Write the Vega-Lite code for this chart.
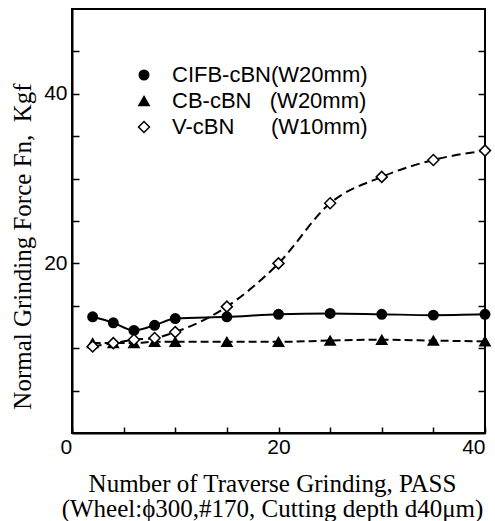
{
  "$schema": "https://vega.github.io/schema/vega-lite/v6.json",
  "width": 413,
  "height": 424,
  "autosize": {"type": "none"},
  "padding": {"left": 72, "top": 9, "right": 10, "bottom": 88},
  "background": "white",
  "config": {
    "view": {"stroke": "black", "strokeWidth": 2},
    "axis": {
      "domainColor": "black", "domainWidth": 2, "tickColor": "black", "tickWidth": 1.5, "grid": false,
      "labelFont": "Liberation Sans", "labelFontSize": 21, "labelColor": "black",
      "titleFont": "Liberation Serif", "titleFontSize": 25, "titleFontWeight": "normal", "titleColor": "black"
    }
  },
  "data": {"values": [
    {"pass": 2, "force": 13.7, "series": "CIFB-cBN(W20mm)"},
    {"pass": 4, "force": 13.0, "series": "CIFB-cBN(W20mm)"},
    {"pass": 6, "force": 12.1, "series": "CIFB-cBN(W20mm)"},
    {"pass": 8, "force": 12.7, "series": "CIFB-cBN(W20mm)"},
    {"pass": 10, "force": 13.5, "series": "CIFB-cBN(W20mm)"},
    {"pass": 15, "force": 13.7, "series": "CIFB-cBN(W20mm)"},
    {"pass": 20, "force": 14.0, "series": "CIFB-cBN(W20mm)"},
    {"pass": 25, "force": 14.1, "series": "CIFB-cBN(W20mm)"},
    {"pass": 30, "force": 14.0, "series": "CIFB-cBN(W20mm)"},
    {"pass": 35, "force": 13.9, "series": "CIFB-cBN(W20mm)"},
    {"pass": 40, "force": 14.0, "series": "CIFB-cBN(W20mm)"},
    {"pass": 2, "force": 10.6, "series": "CB-cBN\u00a0\u00a0\u00a0(W20mm)"},
    {"pass": 4, "force": 10.6, "series": "CB-cBN\u00a0\u00a0\u00a0(W20mm)"},
    {"pass": 6, "force": 10.6, "series": "CB-cBN\u00a0\u00a0\u00a0(W20mm)"},
    {"pass": 8, "force": 10.75, "series": "CB-cBN\u00a0\u00a0\u00a0(W20mm)"},
    {"pass": 10, "force": 10.75, "series": "CB-cBN\u00a0\u00a0\u00a0(W20mm)"},
    {"pass": 15, "force": 10.75, "series": "CB-cBN\u00a0\u00a0\u00a0(W20mm)"},
    {"pass": 20, "force": 10.75, "series": "CB-cBN\u00a0\u00a0\u00a0(W20mm)"},
    {"pass": 25, "force": 10.9, "series": "CB-cBN\u00a0\u00a0\u00a0(W20mm)"},
    {"pass": 30, "force": 11.0, "series": "CB-cBN\u00a0\u00a0\u00a0(W20mm)"},
    {"pass": 35, "force": 10.9, "series": "CB-cBN\u00a0\u00a0\u00a0(W20mm)"},
    {"pass": 40, "force": 10.8, "series": "CB-cBN\u00a0\u00a0\u00a0(W20mm)"},
    {"pass": 2, "force": 10.2, "series": "V-cBN\u00a0\u00a0\u00a0\u00a0\u00a0\u00a0(W10mm)"},
    {"pass": 4, "force": 10.6, "series": "V-cBN\u00a0\u00a0\u00a0\u00a0\u00a0\u00a0(W10mm)"},
    {"pass": 6, "force": 11.0, "series": "V-cBN\u00a0\u00a0\u00a0\u00a0\u00a0\u00a0(W10mm)"},
    {"pass": 8, "force": 11.2, "series": "V-cBN\u00a0\u00a0\u00a0\u00a0\u00a0\u00a0(W10mm)"},
    {"pass": 10, "force": 11.9, "series": "V-cBN\u00a0\u00a0\u00a0\u00a0\u00a0\u00a0(W10mm)"},
    {"pass": 15, "force": 14.9, "series": "V-cBN\u00a0\u00a0\u00a0\u00a0\u00a0\u00a0(W10mm)"},
    {"pass": 20, "force": 20.0, "series": "V-cBN\u00a0\u00a0\u00a0\u00a0\u00a0\u00a0(W10mm)"},
    {"pass": 25, "force": 27.1, "series": "V-cBN\u00a0\u00a0\u00a0\u00a0\u00a0\u00a0(W10mm)"},
    {"pass": 30, "force": 30.2, "series": "V-cBN\u00a0\u00a0\u00a0\u00a0\u00a0\u00a0(W10mm)"},
    {"pass": 35, "force": 32.2, "series": "V-cBN\u00a0\u00a0\u00a0\u00a0\u00a0\u00a0(W10mm)"},
    {"pass": 40, "force": 33.3, "series": "V-cBN\u00a0\u00a0\u00a0\u00a0\u00a0\u00a0(W10mm)"}
  ]},
  "resolve": {"scale": {"y": "shared"}, "axis": {"y": "independent"}},
  "layer": [
    {
      "encoding": {
        "x": {"field": "pass", "type": "quantitative", "scale": {"domain": [0, 40], "nice": false},
          "axis": {"values": [0, 5, 10, 15, 20, 25, 30, 35, 40], "tickSize": -6, "labelPadding": 9,
            "labelExpr": "datum.value % 20 == 0 ? datum.label : ''",
            "labelOffset": {"condition": {"test": "datum.value == 0", "value": -12}, "value": 0},
            "title": ["Number of Traverse Grinding, PASS", "(Wheel:\u03d5300,#170, Cutting depth d40\u03bcm)"],
            "titleLineHeight": 25, "titleX": 200, "titleY": 38, "titleBaseline": "top", "titleAlign": "center"}},
        "y": {"field": "force", "type": "quantitative", "scale": {"domain": [0, 50], "nice": false},
          "axis": {"values": [5, 10, 15, 20, 25, 30, 35, 40, 45], "tickSize": -7, "labelPadding": 12,
            "labelExpr": "datum.value % 20 == 0 ? datum.label : ''",
            "title": "Normal Grinding Force Fn,\u00a0 Kgf", "titleX": -50, "titleY": 237, "titleBaseline": "middle", "titleAlign": "center", "titleAngle": -90}}
      },
      "layer": [
        {
          "transform": [{"filter": "datum.series == 'CIFB-cBN(W20mm)'"}],
          "mark": {"type": "line", "interpolate": "monotone", "strokeWidth": 2, "color": "black"}
        },
        {
          "transform": [{"filter": "indexof(datum.series, 'CB-cBN') == 0"}],
          "mark": {"type": "line", "interpolate": "monotone", "strokeWidth": 2, "color": "black", "strokeDash": [8, 4]}
        },
        {
          "transform": [{"filter": "indexof(datum.series, 'V-cBN') == 0"}],
          "mark": {"type": "line", "interpolate": "monotone", "strokeWidth": 2, "color": "black", "strokeDash": [9, 5]}
        },
        {
          "mark": {"type": "point", "stroke": "black", "strokeWidth": 1.5, "opacity": 1, "fillOpacity": 1},
          "encoding": {
            "shape": {"field": "series", "type": "nominal",
              "scale": {"domain": ["CIFB-cBN(W20mm)", "CB-cBN\u00a0\u00a0\u00a0(W20mm)", "V-cBN\u00a0\u00a0\u00a0\u00a0\u00a0\u00a0(W10mm)"], "range": ["circle", "triangle-up", "diamond"]},
              "legend": {"orient": "none", "legendX": 61, "legendY": 55, "padding": 0, "title": null,
                "labelFont": "Liberation Sans", "labelFontSize": 22, "labelColor": "black", "labelOffset": 17, "labelLimit": 400,
                "rowPadding": 4, "symbolStrokeColor": "black", "symbolStrokeWidth": 1.5, "symbolOpacity": 1}},
            "fill": {"field": "series", "type": "nominal",
              "scale": {"domain": ["CIFB-cBN(W20mm)", "CB-cBN\u00a0\u00a0\u00a0(W20mm)", "V-cBN\u00a0\u00a0\u00a0\u00a0\u00a0\u00a0(W10mm)"], "range": ["black", "black", "white"]}},
            "size": {"field": "series", "type": "nominal",
              "scale": {"domain": ["CIFB-cBN(W20mm)", "CB-cBN\u00a0\u00a0\u00a0(W20mm)", "V-cBN\u00a0\u00a0\u00a0\u00a0\u00a0\u00a0(W10mm)"], "range": [90, 120, 210]}}
          }
        }
      ]
    },
    {
      "mark": {"type": "point", "opacity": 0},
      "encoding": {
        "x": {"field": "pass", "type": "quantitative"},
        "y": {"field": "force", "type": "quantitative",
          "axis": {"orient": "right", "values": [5, 10, 15, 20, 25, 30, 35, 40, 45], "tickSize": -7, "labels": false, "domain": false, "title": null}}
      }
    }
  ]
}
